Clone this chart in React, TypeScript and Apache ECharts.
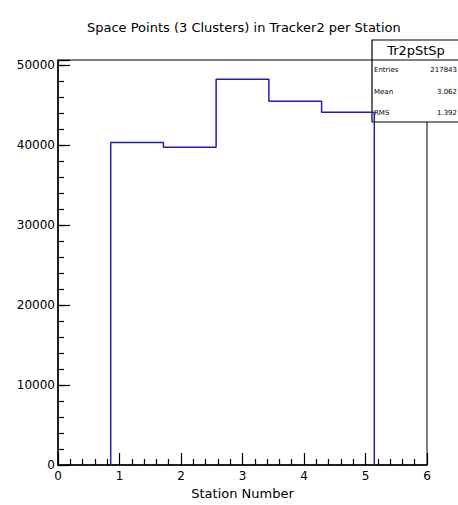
import React, { useEffect, useRef } from "react";
import * as echarts from "echarts";

const binEdges = [0, 0.857, 1.714, 2.571, 3.429, 4.286, 5.143, 6];
const binCounts = [0, 40330, 39720, 48220, 45470, 44100, 0];
const xTicks = [0, 1, 2, 3, 4, 5, 6];
const yTicks = [0, 10000, 20000, 30000, 40000, 50000];
const statsTitle = "Tr2pStSp";
const statsLabels = ["Entries", "Mean", "RMS"];
const statsValues = ["217843", "3.062", "1.392"];
const chartTitle = "Space Points (3 Clusters) in Tracker2 per Station";
const xTitle = "Station Number";

export default function App() {
  const ref = useRef<HTMLDivElement>(null);
  useEffect(() => {
    if (!ref.current) return;
    const chart = echarts.init(ref.current, null, { renderer: "svg" });
    const first = binCounts.findIndex((v) => v > 0);
    let last = binCounts.length - 1;
    while (last > 0 && binCounts[last] === 0) last--;
    const pts: number[][] = [[binEdges[first], 0]];
    for (let i = first; i <= last; i++) {
      pts.push([binEdges[i], binCounts[i]]);
      pts.push([binEdges[i + 1], binCounts[i]]);
    }
    pts.push([binEdges[last + 1], 0]);
    const maxV = Math.max(...binCounts) * 1.05;
    const font = "DejaVu Sans";
    const rowY = [70, 91.5, 113];
    const tickStyle = { color: "#000", width: 1.2 };
    chart.setOption({
      animation: false,
      backgroundColor: "#ffffff",
      title: {
        text: chartTitle,
        left: 82,
        top: 16,
        textStyle: { fontFamily: font, fontSize: 13, fontWeight: "normal", color: "#000" },
      },
      grid: {
        left: 58,
        right: 31,
        top: 60,
        bottom: 40,
        outerBoundsMode: "none",
        containLabel: false,
        show: true,
        borderColor: "#000",
        borderWidth: 1,
        backgroundColor: "transparent",
      },
      xAxis: {
        type: "value",
        min: xTicks[0],
        max: xTicks[xTicks.length - 1],
        interval: 1,
        name: xTitle,
        nameLocation: "middle",
        nameGap: 22,
        nameTextStyle: { fontFamily: font, fontSize: 13, color: "#000" },
        axisLine: { show: true, lineStyle: { color: "#000", width: 1.5 } },
        axisTick: { show: true, inside: true, length: 12, lineStyle: tickStyle },
        minorTick: { show: true, splitNumber: 5, length: 6, lineStyle: tickStyle },
        splitLine: { show: false },
        axisLabel: { fontFamily: font, fontSize: 12, color: "#000", margin: 5 },
      },
      yAxis: [
        {
          type: "value",
          min: yTicks[0],
          max: maxV,
          interval: 10000,
          axisLine: { show: true, lineStyle: { color: "#000", width: 1.5 } },
          axisTick: { show: true, inside: true, length: 12, lineStyle: tickStyle },
          minorTick: { show: false },
          splitLine: { show: false },
          axisLabel: {
            fontFamily: font,
            fontSize: 12,
            color: "#000",
            margin: 3,
            formatter: (v: number) => (yTicks.includes(v) ? String(v) : ""),
          },
        },
        {
          type: "value",
          position: "left",
          min: yTicks[0],
          max: maxV,
          interval: 2000,
          axisLine: { show: false },
          axisTick: { show: true, inside: true, length: 6, lineStyle: tickStyle },
          splitLine: { show: false },
          axisLabel: { show: false },
        },
      ],
      series: [
        {
          type: "line",
          data: pts,
          yAxisIndex: 0,
          symbol: "none",
          lineStyle: { color: "#1f1fb0", width: 1.5 },
          z: 3,
        },
      ],
      graphic: [
        {
          type: "group",
          z: 100,
          children: [
            { type: "rect", shape: { x: 372, y: 40, width: 90, height: 82 }, style: { fill: "#fff", stroke: "#000", lineWidth: 1.2 } },
            { type: "line", shape: { x1: 372, y1: 60, x2: 462, y2: 60 }, style: { stroke: "#000", lineWidth: 1 } },
            { type: "text", x: 416, y: 50.5, style: { text: statsTitle, fontFamily: font, fontSize: 13, fill: "#000", align: "center", verticalAlign: "middle" } },
            ...statsLabels.map((l, i) => ({
              type: "text",
              x: 374,
              y: rowY[i],
              style: { text: l, fontFamily: font, fontSize: 7, fill: "#000", align: "left", verticalAlign: "middle" },
            })),
            ...statsValues.map((l, i) => ({
              type: "text",
              x: 457,
              y: rowY[i],
              style: { text: l, fontFamily: font, fontSize: 7, fill: "#000", align: "right", verticalAlign: "middle" },
            })),
          ],
        },
      ],
    });
    return () => chart.dispose();
  }, []);
  return <div ref={ref} style={{ position: "fixed", left: 0, top: 0, width: 458, height: 505 }} />;
}
